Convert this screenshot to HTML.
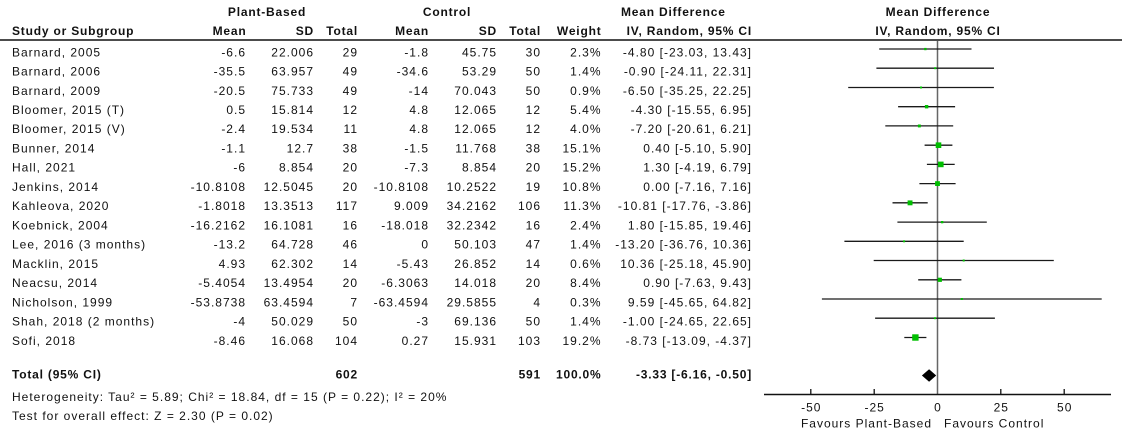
<!DOCTYPE html>
<html>
<head>
<meta charset="utf-8">
<style>
  html,body{margin:0;padding:0;background:#fff;}
  svg{display:block;}
  text{font-family:"Liberation Sans",Arial,sans-serif;font-size:12px;fill:#111;letter-spacing:1px;}
  .b{font-weight:bold;letter-spacing:0.8px;}
  .e{text-anchor:end;}
  .m{text-anchor:middle;}
</style>
</head>
<body>
<svg width="1122" height="442" viewBox="0 0 1122 442" xmlns="http://www.w3.org/2000/svg">
<rect x="0" y="0" width="1122" height="442" fill="#fff"/>

<!-- Headers -->
<text class="b m" x="267" y="16">Plant-Based</text>
<text class="b m" x="447" y="16">Control</text>
<text class="b" x="621" y="16">Mean Difference</text>
<text class="b m" x="938" y="16">Mean Difference</text>

<text class="b" x="12" y="35">Study or Subgroup</text>
<text class="b e" x="246.5" y="35">Mean</text>
<text class="b e" x="314" y="35">SD</text>
<text class="b e" x="358" y="35">Total</text>
<text class="b e" x="429" y="35">Mean</text>
<text class="b e" x="497" y="35">SD</text>
<text class="b e" x="541" y="35">Total</text>
<text class="b e" x="601.5" y="35">Weight</text>
<text class="b e" x="752" y="35">IV, Random, 95% CI</text>
<text class="b m" x="938" y="35">IV, Random, 95% CI</text>

<line x1="0" y1="40" x2="1122" y2="40" stroke="#111" stroke-width="1.6"/>

<!-- zero line -->
<line x1="937.5" y1="41" x2="937.5" y2="394" stroke="#666" stroke-width="1.5"/>

<!-- Study rows text -->
<g>
<text x="12" y="56.3">Barnard, 2005</text>
<text class="e" x="246" y="56.3">-6.6</text><text class="e" x="314" y="56.3">22.006</text><text class="e" x="358" y="56.3">29</text>
<text class="e" x="429" y="56.3">-1.8</text><text class="e" x="497" y="56.3">45.75</text><text class="e" x="541" y="56.3">30</text>
<text class="e" x="601.5" y="56.3">2.3%</text><text class="e" x="752" y="56.3">-4.80 [-23.03, 13.43]</text>

<text x="12" y="75.5">Barnard, 2006</text>
<text class="e" x="246" y="75.5">-35.5</text><text class="e" x="314" y="75.5">63.957</text><text class="e" x="358" y="75.5">49</text>
<text class="e" x="429" y="75.5">-34.6</text><text class="e" x="497" y="75.5">53.29</text><text class="e" x="541" y="75.5">50</text>
<text class="e" x="601.5" y="75.5">1.4%</text><text class="e" x="752" y="75.5">-0.90 [-24.11, 22.31]</text>

<text x="12" y="94.8">Barnard, 2009</text>
<text class="e" x="246" y="94.8">-20.5</text><text class="e" x="314" y="94.8">75.733</text><text class="e" x="358" y="94.8">49</text>
<text class="e" x="429" y="94.8">-14</text><text class="e" x="497" y="94.8">70.043</text><text class="e" x="541" y="94.8">50</text>
<text class="e" x="601.5" y="94.8">0.9%</text><text class="e" x="752" y="94.8">-6.50 [-35.25, 22.25]</text>

<text x="12" y="114">Bloomer, 2015 (T)</text>
<text class="e" x="246" y="114">0.5</text><text class="e" x="314" y="114">15.814</text><text class="e" x="358" y="114">12</text>
<text class="e" x="429" y="114">4.8</text><text class="e" x="497" y="114">12.065</text><text class="e" x="541" y="114">12</text>
<text class="e" x="601.5" y="114">5.4%</text><text class="e" x="752" y="114">-4.30 [-15.55, 6.95]</text>

<text x="12" y="133.2">Bloomer, 2015 (V)</text>
<text class="e" x="246" y="133.2">-2.4</text><text class="e" x="314" y="133.2">19.534</text><text class="e" x="358" y="133.2">11</text>
<text class="e" x="429" y="133.2">4.8</text><text class="e" x="497" y="133.2">12.065</text><text class="e" x="541" y="133.2">12</text>
<text class="e" x="601.5" y="133.2">4.0%</text><text class="e" x="752" y="133.2">-7.20 [-20.61, 6.21]</text>

<text x="12" y="152.5">Bunner, 2014</text>
<text class="e" x="246" y="152.5">-1.1</text><text class="e" x="314" y="152.5">12.7</text><text class="e" x="358" y="152.5">38</text>
<text class="e" x="429" y="152.5">-1.5</text><text class="e" x="497" y="152.5">11.768</text><text class="e" x="541" y="152.5">38</text>
<text class="e" x="601.5" y="152.5">15.1%</text><text class="e" x="752" y="152.5">0.40 [-5.10, 5.90]</text>

<text x="12" y="171.7">Hall, 2021</text>
<text class="e" x="246" y="171.7">-6</text><text class="e" x="314" y="171.7">8.854</text><text class="e" x="358" y="171.7">20</text>
<text class="e" x="429" y="171.7">-7.3</text><text class="e" x="497" y="171.7">8.854</text><text class="e" x="541" y="171.7">20</text>
<text class="e" x="601.5" y="171.7">15.2%</text><text class="e" x="752" y="171.7">1.30 [-4.19, 6.79]</text>

<text x="12" y="190.9">Jenkins, 2014</text>
<text class="e" x="246" y="190.9">-10.8108</text><text class="e" x="314" y="190.9">12.5045</text><text class="e" x="358" y="190.9">20</text>
<text class="e" x="429" y="190.9">-10.8108</text><text class="e" x="497" y="190.9">10.2522</text><text class="e" x="541" y="190.9">19</text>
<text class="e" x="601.5" y="190.9">10.8%</text><text class="e" x="752" y="190.9">0.00 [-7.16, 7.16]</text>

<text x="12" y="210.1">Kahleova, 2020</text>
<text class="e" x="246" y="210.1">-1.8018</text><text class="e" x="314" y="210.1">13.3513</text><text class="e" x="358" y="210.1">117</text>
<text class="e" x="429" y="210.1">9.009</text><text class="e" x="497" y="210.1">34.2162</text><text class="e" x="541" y="210.1">106</text>
<text class="e" x="601.5" y="210.1">11.3%</text><text class="e" x="752" y="210.1">-10.81 [-17.76, -3.86]</text>

<text x="12" y="229.4">Koebnick, 2004</text>
<text class="e" x="246" y="229.4">-16.2162</text><text class="e" x="314" y="229.4">16.1081</text><text class="e" x="358" y="229.4">16</text>
<text class="e" x="429" y="229.4">-18.018</text><text class="e" x="497" y="229.4">32.2342</text><text class="e" x="541" y="229.4">16</text>
<text class="e" x="601.5" y="229.4">2.4%</text><text class="e" x="752" y="229.4">1.80 [-15.85, 19.46]</text>

<text x="12" y="248.6">Lee, 2016 (3 months)</text>
<text class="e" x="246" y="248.6">-13.2</text><text class="e" x="314" y="248.6">64.728</text><text class="e" x="358" y="248.6">46</text>
<text class="e" x="429" y="248.6">0</text><text class="e" x="497" y="248.6">50.103</text><text class="e" x="541" y="248.6">47</text>
<text class="e" x="601.5" y="248.6">1.4%</text><text class="e" x="752" y="248.6">-13.20 [-36.76, 10.36]</text>

<text x="12" y="267.8">Macklin, 2015</text>
<text class="e" x="246" y="267.8">4.93</text><text class="e" x="314" y="267.8">62.302</text><text class="e" x="358" y="267.8">14</text>
<text class="e" x="429" y="267.8">-5.43</text><text class="e" x="497" y="267.8">26.852</text><text class="e" x="541" y="267.8">14</text>
<text class="e" x="601.5" y="267.8">0.6%</text><text class="e" x="752" y="267.8">10.36 [-25.18, 45.90]</text>

<text x="12" y="287.1">Neacsu, 2014</text>
<text class="e" x="246" y="287.1">-5.4054</text><text class="e" x="314" y="287.1">13.4954</text><text class="e" x="358" y="287.1">20</text>
<text class="e" x="429" y="287.1">-6.3063</text><text class="e" x="497" y="287.1">14.018</text><text class="e" x="541" y="287.1">20</text>
<text class="e" x="601.5" y="287.1">8.4%</text><text class="e" x="752" y="287.1">0.90 [-7.63, 9.43]</text>

<text x="12" y="306.3">Nicholson, 1999</text>
<text class="e" x="246" y="306.3">-53.8738</text><text class="e" x="314" y="306.3">63.4594</text><text class="e" x="358" y="306.3">7</text>
<text class="e" x="429" y="306.3">-63.4594</text><text class="e" x="497" y="306.3">29.5855</text><text class="e" x="541" y="306.3">4</text>
<text class="e" x="601.5" y="306.3">0.3%</text><text class="e" x="752" y="306.3">9.59 [-45.65, 64.82]</text>

<text x="12" y="325.5">Shah, 2018 (2 months)</text>
<text class="e" x="246" y="325.5">-4</text><text class="e" x="314" y="325.5">50.029</text><text class="e" x="358" y="325.5">50</text>
<text class="e" x="429" y="325.5">-3</text><text class="e" x="497" y="325.5">69.136</text><text class="e" x="541" y="325.5">50</text>
<text class="e" x="601.5" y="325.5">1.4%</text><text class="e" x="752" y="325.5">-1.00 [-24.65, 22.65]</text>

<text x="12" y="344.8">Sofi, 2018</text>
<text class="e" x="246" y="344.8">-8.46</text><text class="e" x="314" y="344.8">16.068</text><text class="e" x="358" y="344.8">104</text>
<text class="e" x="429" y="344.8">0.27</text><text class="e" x="497" y="344.8">15.931</text><text class="e" x="541" y="344.8">103</text>
<text class="e" x="601.5" y="344.8">19.2%</text><text class="e" x="752" y="344.8">-8.73 [-13.09, -4.37]</text>
</g>

<!-- Total row -->
<text class="b" x="12" y="378.5">Total (95% CI)</text>
<text class="b e" x="358" y="378.5">602</text>
<text class="b e" x="541" y="378.5">591</text>
<text class="b e" x="601.5" y="378.5">100.0%</text>
<text class="b e" x="752" y="378.5">-3.33 [-6.16, -0.50]</text>

<text x="12" y="401">Heterogeneity: Tau² = 5.89; Chi² = 18.84, df = 15 (P = 0.22); I² = 20%</text>
<text x="12" y="420">Test for overall effect: Z = 2.30 (P = 0.02)</text>

<!-- CI lines -->
<g stroke="#1a1a1a" stroke-width="1.3">
<line x1="879.2" y1="49" x2="971.5" y2="49"/>
<line x1="876.4" y1="68.2" x2="994.0" y2="68.2"/>
<line x1="848.2" y1="87.5" x2="993.9" y2="87.5"/>
<line x1="898.1" y1="106.7" x2="955.1" y2="106.7"/>
<line x1="885.3" y1="125.9" x2="953.2" y2="125.9"/>
<line x1="924.6" y1="145.2" x2="952.4" y2="145.2"/>
<line x1="926.9" y1="164.4" x2="954.7" y2="164.4"/>
<line x1="919.4" y1="183.6" x2="955.6" y2="183.6"/>
<line x1="892.5" y1="202.8" x2="927.7" y2="202.8"/>
<line x1="897.4" y1="222.1" x2="986.8" y2="222.1"/>
<line x1="844.4" y1="241.3" x2="963.7" y2="241.3"/>
<line x1="873.7" y1="260.5" x2="1053.8" y2="260.5"/>
<line x1="918.2" y1="279.8" x2="961.4" y2="279.8"/>
<line x1="821.9" y1="299" x2="1101.7" y2="299"/>
<line x1="875.1" y1="318.2" x2="994.9" y2="318.2"/>
<line x1="904.3" y1="337.5" x2="926.4" y2="337.5"/>
</g>

<!-- squares -->
<g fill="#00bf00">
<rect x="924.2" y="47.9" width="2.3" height="2.3"/>
<rect x="934.2" y="67.2" width="2" height="2"/>
<rect x="920.0" y="86.5" width="2" height="2"/>
<rect x="924.9" y="105.0" width="3.4" height="3.4"/>
<rect x="917.9" y="124.5" width="2.9" height="2.9"/>
<rect x="935.7" y="142.4" width="5.6" height="5.6"/>
<rect x="938.0" y="161.6" width="5.6" height="5.6"/>
<rect x="935.1" y="181.2" width="4.8" height="4.8"/>
<rect x="907.6" y="200.4" width="4.9" height="4.9"/>
<rect x="941.0" y="221.0" width="2.3" height="2.3"/>
<rect x="903.1" y="240.3" width="2" height="2"/>
<rect x="962.7" y="259.5" width="2" height="2"/>
<rect x="937.7" y="277.7" width="4.2" height="4.2"/>
<rect x="960.8" y="298" width="2" height="2"/>
<rect x="934.0" y="317.2" width="2" height="2"/>
<rect x="912.2" y="334.3" width="6.4" height="6.4"/>
</g>

<!-- diamond -->
<polygon points="921.9,375.5 929.1,369.3 936.2,375.5 929.1,381.7" fill="#000"/>

<!-- axis -->
<line x1="764" y1="394.5" x2="1111" y2="394.5" stroke="#111" stroke-width="1.5"/>
<g stroke="#111" stroke-width="1.3">
<line x1="810.8" y1="389" x2="810.8" y2="394.5"/>
<line x1="874.2" y1="389" x2="874.2" y2="394.5"/>
<line x1="1000.8" y1="389" x2="1000.8" y2="394.5"/>
<line x1="1064.2" y1="389" x2="1064.2" y2="394.5"/>
</g>
<g style="fill:#222">
<text class="m" x="811.3" y="411.5">-50</text>
<text class="m" x="874.7" y="411.5">-25</text>
<text class="m" x="938" y="411.5">0</text>
<text class="m" x="1001.3" y="411.5">25</text>
<text class="m" x="1064.7" y="411.5">50</text>
<text class="e" x="932" y="427.5">Favours Plant-Based</text>
<text x="944" y="427.5">Favours Control</text>
</g>
</svg>
</body>
</html>
